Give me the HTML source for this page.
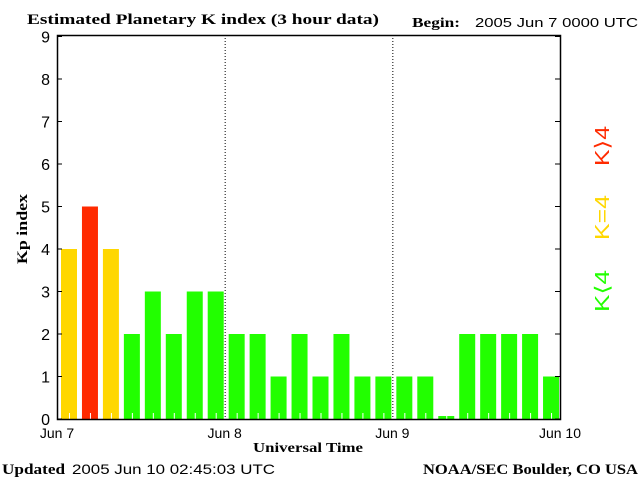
<!DOCTYPE html>
<html><head><meta charset="utf-8"><style>
body{margin:0;background:#fff;}
svg{display:block;}
</style></head><body>
<svg id="c" width="640" height="480" xmlns="http://www.w3.org/2000/svg">
<rect width="640" height="480" fill="#fff"/>
<text x="27" y="24" textLength="352" lengthAdjust="spacingAndGlyphs" font-family="Liberation Serif, serif" font-weight="bold" font-size="15">Estimated Planetary K index (3 hour data)</text>
<text x="412" y="27" textLength="48" lengthAdjust="spacingAndGlyphs" font-family="Liberation Serif, serif" font-weight="bold" font-size="14">Begin:</text>
<text x="475" y="27" textLength="163" lengthAdjust="spacingAndGlyphs" font-family="Liberation Sans, sans-serif" font-size="13">2005 Jun 7 0000 UTC</text>
<text transform="translate(27,229) rotate(-90)" text-anchor="middle" textLength="70" lengthAdjust="spacingAndGlyphs" font-family="Liberation Serif, serif" font-weight="bold" font-size="15">Kp index</text>
<text x="253" y="452" textLength="110" lengthAdjust="spacingAndGlyphs" font-family="Liberation Serif, serif" font-weight="bold" font-size="14">Universal Time</text>
<text x="2" y="474" textLength="63" lengthAdjust="spacingAndGlyphs" font-family="Liberation Serif, serif" font-weight="bold" font-size="15">Updated</text>
<text x="72" y="474" textLength="203" lengthAdjust="spacingAndGlyphs" font-family="Liberation Sans, sans-serif" font-size="14">2005 Jun 10 02:45:03 UTC</text>
<text x="423" y="474" textLength="215" lengthAdjust="spacingAndGlyphs" font-family="Liberation Serif, serif" font-weight="bold" font-size="15">NOAA/SEC Boulder, CO USA</text>
<text transform="translate(609,312) rotate(-90)" textLength="42" lengthAdjust="spacingAndGlyphs" fill="#22ff00" font-family="Liberation Sans, sans-serif" font-size="20">K⟨4</text>
<text transform="translate(609,240) rotate(-90)" textLength="45" lengthAdjust="spacingAndGlyphs" fill="#ffd700" font-family="Liberation Sans, sans-serif" font-size="20">K=4</text>
<text transform="translate(609,166) rotate(-90)" textLength="40" lengthAdjust="spacingAndGlyphs" fill="#ff2a00" font-family="Liberation Sans, sans-serif" font-size="20">K⟩4</text>
<g id="plot"></g>
</svg>
<script>
const values=[4,5,4,2,3,2,3,3,2,2,1,2,1,2,1,1,1,1,0.07,2,2,2,2,1];
const yTicks=[0,1,2,3,4,5,6,7,8,9];
const xLabels=["Jun 7","Jun 8","Jun 9","Jun 10"];
const L=57,R=560,T=35,B=419;
const y=v=>B-42.5*v;
const slot=(R-L)/values.length;
const x=i=>L+i*slot;
const g=document.getElementById('plot');
const NS='http://www.w3.org/2000/svg';
function mk(t,a){const e=document.createElementNS(NS,t);for(const k in a)e.setAttribute(k,a[k]);g.appendChild(e);return e;}
values.forEach((v,i)=>{
  const col=v>4?'#ff2a00':(v>=4?'#ffd700':'#22ff00');
  const r=mk('rect',{x:x(i)+4,y:y(v),width:16,height:B-y(v),fill:col});
  
  
  const t=mk('line',{x1:x(i)+12.5,x2:x(i)+12.5,y1:B-6,y2:B,stroke:'#fff','stroke-width':1});
  
  
});
[1,2].forEach(d=>{
  const l=mk('line',{x1:x(d*8)+0.5,x2:x(d*8)+0.5,y1:T,y2:B,stroke:'#000','stroke-dasharray':'1,2'});
  
  
});
const f=mk('rect',{x:L+0.5,y:T+0.5,width:R-L,height:B-T,fill:'none',stroke:'#000','stroke-width':1.5});


yTicks.forEach(v=>{
  const t=mk('text',{x:L-7,y:y(v)+6,'text-anchor':'end','font-family':'Liberation Sans, sans-serif','font-size':16});
  t.textContent=v;
  
  
  const a=mk('line',{x1:L,x2:L+5,y1:y(v),y2:y(v),stroke:'#000'});
  
  
  const b=mk('line',{x1:R-5,x2:R,y1:y(v),y2:y(v),stroke:'#000'});
  
  
});
xLabels.forEach((s,i)=>{
  const t=mk('text',{x:x(i*8),y:B+19,'text-anchor':'middle','font-family':'Liberation Sans, sans-serif','font-size':14});
  t.textContent=s;
  
  
});
</script>
</body></html>
